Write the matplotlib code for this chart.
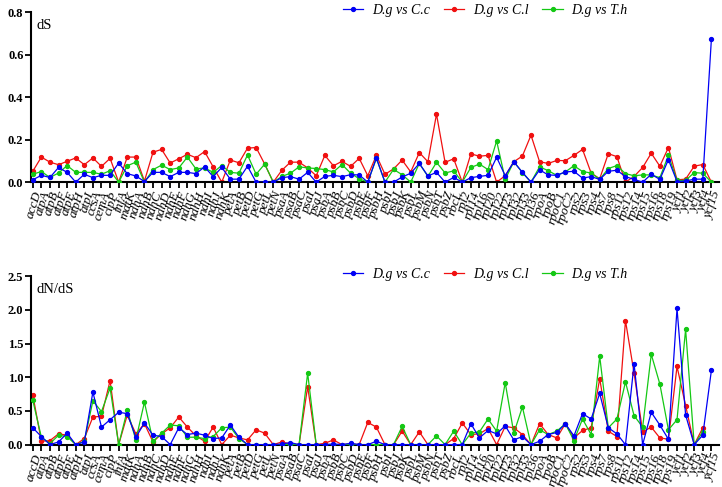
import numpy as np
import matplotlib
matplotlib.use("Agg")
from matplotlib import pyplot as plt

genes = ["accD", "atpA", "atpB", "atpF", "atpE", "atpH", "atpI", "ccsA", "cemA", "clpP",
         "infA", "matK", "ndhA", "ndhB", "ndhC", "ndhD", "ndhE", "ndhF", "ndhG", "ndhH",
         "ndhI", "ndhJ", "ndhK", "petA", "petB", "petD", "petG", "petL", "petN", "psaA",
         "psaB", "psaC", "psaI", "psaJ", "psbA", "psbB", "psbC", "psbD", "psbE", "psbF",
         "psbH", "psbI", "psbJ", "psbK", "psbL", "psbM", "psbN", "psbT", "psbZ", "rbcL",
         "rpl2", "rpl14", "rpl16", "rpl20", "rpl22", "rpl23", "rpl32", "rpl33", "rpl36", "rpoA",
         "rpoB", "rpoC1", "rpoC2", "rps2", "rps3", "rps4", "rps7", "rps8", "rps11", "rps12",
         "rps14", "rps15", "rps16", "rps18", "rps19", "ycf1", "ycf2", "ycf3", "ycf4", "ycf15"]

# dS
ds_cc = [0.011, 0.032, 0.022, 0.069, 0.046, 0.0, 0.037, 0.021, 0.032, 0.032,
         0.09, 0.04, 0.029, 0.003, 0.046, 0.046, 0.026, 0.046, 0.046, 0.04,
         0.072, 0.026, 0.069, 0.014, 0.014, 0.075, 0.0, 0.0, 0.0, 0.021,
         0.026, 0.014, 0.046, 0.0, 0.027, 0.032, 0.026, 0.035, 0.034, 0.0,
         0.114, 0.0, 0.0, 0.024, 0.042, 0.088, 0.029, 0.046, 0.0, 0.022,
         0.0, 0.021, 0.027, 0.032, 0.117, 0.03, 0.096, 0.046, 0.0, 0.058,
         0.034, 0.032, 0.048, 0.051, 0.019, 0.026, 0.013, 0.051, 0.056, 0.026,
         0.013, 0.0, 0.037, 0.013, 0.106, 0.003, 0.005, 0.014, 0.014, 0.672]
ds_cl = [0.051, 0.118, 0.094, 0.082, 0.098, 0.114, 0.082, 0.114, 0.074, 0.112,
         0.0, 0.118, 0.118, 0.005, 0.141, 0.154, 0.09, 0.11, 0.131, 0.115,
         0.144, 0.072, 0.0, 0.104, 0.091, 0.16, 0.163, 0.085, 0.0, 0.056,
         0.094, 0.094, 0.067, 0.03, 0.126, 0.077, 0.098, 0.074, 0.112, 0.03,
         0.126, 0.037, 0.062, 0.104, 0.048, 0.139, 0.096, 0.32, 0.093, 0.11,
         0.0, 0.133, 0.122, 0.126, 0.0, 0.03, 0.096, 0.123, 0.221, 0.096,
         0.088, 0.102, 0.101, 0.126, 0.154, 0.043, 0.016, 0.134, 0.12, 0.0,
         0.027, 0.069, 0.136, 0.075, 0.163, 0.011, 0.014, 0.075, 0.083, 0.0]
ds_th = [0.037, 0.05, 0.022, 0.043, 0.078, 0.046, 0.046, 0.046, 0.037, 0.054,
         0.0, 0.077, 0.094, 0.0, 0.059, 0.08, 0.059, 0.067, 0.118, 0.062,
         0.067, 0.046, 0.078, 0.046, 0.042, 0.128, 0.037, 0.085, 0.0, 0.027,
         0.042, 0.072, 0.067, 0.064, 0.059, 0.048, 0.083, 0.042, 0.016, 0.0,
         0.112, 0.0, 0.06, 0.035, 0.0, 0.088, 0.027, 0.093, 0.043, 0.053,
         0.0, 0.069, 0.085, 0.059, 0.194, 0.013, 0.096, 0.045, 0.0, 0.072,
         0.054, 0.032, 0.048, 0.077, 0.05, 0.043, 0.013, 0.064, 0.078, 0.04,
         0.03, 0.034, 0.034, 0.021, 0.126, 0.008, 0.008, 0.045, 0.042, 0.0]

# dN/dS
w_cc = [0.25, 0.12, 0.0, 0.04, 0.17, 0.0, 0.04, 0.78, 0.26, 0.37,
        0.48, 0.46, 0.11, 0.32, 0.14, 0.12, 0.0, 0.25, 0.15, 0.17,
        0.14, 0.09, 0.1, 0.29, 0.11, 0.0, 0.0, 0.0, 0.0, 0.01,
        0.03, 0.0, 0.0, 0.0, 0.0, 0.01, 0.0, 0.02, 0.0, 0.0,
        0.05, 0.0, 0.0, 0.0, 0.0, 0.0, 0.0, 0.0, 0.0, 0.0,
        0.0, 0.31, 0.1, 0.21, 0.16, 0.28, 0.07, 0.12, 0.0, 0.05,
        0.15, 0.18, 0.31, 0.13, 0.46, 0.38, 0.76, 0.25, 0.16, 0.0,
        1.2, 0.0, 0.48, 0.29, 0.08, 2.02, 0.44, 0.0, 0.14, 1.1]
w_cl = [0.74, 0.05, 0.06, 0.16, 0.14, 0.0, 0.09, 0.41, 0.42, 0.95,
        0.0, 0.44, 0.16, 0.31, 0.04, 0.16, 0.25, 0.41, 0.26, 0.13,
        0.05, 0.26, 0.0, 0.14, 0.1, 0.07, 0.22, 0.17, 0.0, 0.04,
        0.01, 0.0, 0.86, 0.0, 0.02, 0.07, 0.0, 0.01, 0.0, 0.33,
        0.26, 0.0, 0.0, 0.2, 0.0, 0.19, 0.0, 0.0, 0.0, 0.09,
        0.32, 0.15, 0.16, 0.24, 0.0, 0.27, 0.25, 0.15, 0.0, 0.31,
        0.15, 0.1, 0.31, 0.1, 0.21, 0.25, 0.98, 0.2, 0.12, 1.84,
        1.06, 0.19, 0.26, 0.1, 0.08, 1.16, 0.58, 0.0, 0.25, np.nan]
w_th = [0.66, 0.11, 0.015, 0.14, 0.12, 0.0, 0.05, 0.65, 0.49, 0.84,
        0.0, 0.51, 0.07, 0.63, 0.05, 0.17, 0.29, 0.28, 0.11, 0.11,
        0.09, 0.12, 0.25, 0.26, 0.09, 0.0, 0.0, 0.0, 0.0, 0.0,
        0.0, 0.0, 1.06, 0.0, 0.0, 0.0, 0.0, 0.0, 0.0, 0.0,
        0.0, 0.0, 0.0, 0.27, 0.0, 0.0, 0.0, 0.13, 0.0, 0.2,
        0.0, 0.17, 0.19, 0.38, 0.2, 0.92, 0.17, 0.56, 0.0, 0.22,
        0.15, 0.2, 0.31, 0.06, 0.38, 0.15, 1.31, 0.25, 0.38, 0.93,
        0.43, 0.26, 1.34, 0.9, 0.22, 0.37, 1.71, 0.0, 0.19, np.nan]

labels = ["D.g vs C.c", "D.g vs C.l", "D.g vs T.h"]
colors = ["#0000F5", "#F01010", "#14C814"]

plt.rcParams['font.family'] = ['Liberation Serif', 'DejaVu Serif']

fig = plt.figure(figsize=(7.22, 4.87), dpi=100)
ax1 = fig.add_axes([0.043, 0.626, 0.953, 0.349])
ax2 = fig.add_axes([0.043, 0.087, 0.953, 0.346])

x = np.arange(len(genes))

def draw(ax, series, ylim, yticks, name):
    zs = [4, 2, 3]
    for s, lab, c, z in zip(series, labels, colors, zs):
        ax.plot(x, s, color=c, lw=0.9, marker='o', ms=2.8, label=lab, zorder=z)
    ax.set_xlim(-0.2, 79.9)
    ax.set_ylim(*ylim)
    ax.set_yticks(yticks)
    ax.set_yticklabels(["%.1f" % t for t in yticks], fontweight='bold', fontsize=9)
    ax.set_xticks(x)
    ax.set_xticklabels(genes, rotation=72, ha='right', rotation_mode='anchor',
                       fontstyle='italic', fontsize=9.5)
    ax.spines['top'].set_visible(False)
    ax.spines['right'].set_visible(False)
    ax.spines['left'].set_linewidth(1.5)
    ax.spines['bottom'].set_linewidth(1.5)
    ax.tick_params(axis='both', direction='out', length=4, width=1.3, pad=1.5)
    ax.text(0.008, 0.96, name, transform=ax.transAxes, fontsize=10.5, va='top', ha='left')
    leg = ax.legend(loc='center', bbox_to_anchor=(0.66, 1.01), ncol=3, frameon=False,
                    prop={'style': 'italic', 'size': 10}, handlelength=1.5,
                    columnspacing=1.0, handletextpad=0.6, borderaxespad=0)
    return leg

draw(ax1, [ds_cc, ds_cl, ds_th], (0, 0.8), [0.0, 0.2, 0.4, 0.6, 0.8], "dS")
draw(ax2, [w_cc, w_cl, w_th], (0, 2.5), [0.0, 0.5, 1.0, 1.5, 2.0, 2.5], "dN/dS")

fig.savefig("out.png", dpi=100)
